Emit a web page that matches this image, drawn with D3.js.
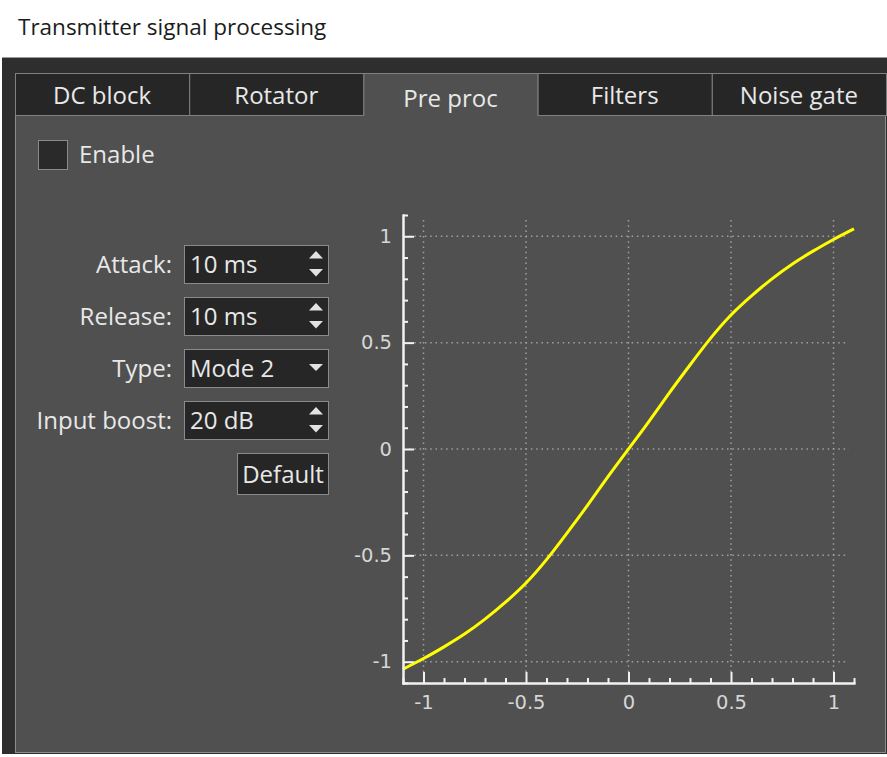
<!DOCTYPE html>
<html>
<head>
<meta charset="utf-8">
<script src="https://cdn.jsdelivr.net/npm/d3@7"></script>
<style>
  body { margin: 0; background: #fff; }
  svg { display: block; }
  .ui { font-family: "Open Sans", sans-serif; font-size: 24px; fill: #e8e8e8; }
  .axis text { font-family: "DejaVu Sans", sans-serif; font-size: 19.5px; fill: #d6d6d6; }
  .axis path, .axis line { stroke: #f2f2f2; stroke-width: 2; }
  .grid line { stroke: #a0a0a0; stroke-width: 1.5; stroke-dasharray: 1.5 3.8; }
</style>
</head>
<body>
<script>
// ---- data ----
const tabs = ["DC block", "Rotator", "Pre proc", "Filters", "Noise gate"];
const activeTab = "Pre proc";
const ctrlLabels = ["Attack:", "Release:", "Type:", "Input boost:"];
const ctrlValues = ["10 ms", "10 ms", "Mode 2", "20 dB"];
const ctrlKinds = ["spin", "spin", "combo", "spin"];

// transfer curve: input level -> output level
const xIn = [-1.1, -1.0, -0.9, -0.8, -0.7, -0.6, -0.5, -0.4, -0.3, -0.2, -0.1, 0,
             0.1, 0.2, 0.3, 0.4, 0.5, 0.6, 0.7, 0.8, 0.9, 1.0, 1.1];
const yOut = [-1.035, -0.985, -0.93, -0.87, -0.80, -0.72, -0.63, -0.52, -0.395, -0.265, -0.13, 0,
              0.13, 0.265, 0.395, 0.52, 0.63, 0.72, 0.80, 0.87, 0.93, 0.985, 1.035];
const majorTicks = [-1, -0.5, 0, 0.5, 1];
const axisDomain = [-1.1, 1.1];

const W = 887, H = 757;

const svg = d3.select("body")
    .append("svg")
    .attr("width", W)
    .attr("height", H);

// window title
svg.append("text")
    .attr("x", 18)
    .attr("y", 35)
    .attr("font-family", "Open Sans, sans-serif")
    .attr("font-size", 22.5)
    .attr("fill", "#1c1c1c")
    .text("Transmitter signal processing");

// dark frame around the tab widget
svg.append("rect")
    .attr("x", 2).attr("y", 57)
    .attr("width", W - 2).attr("height", 697)
    .attr("fill", "#2e2e2e");
svg.append("line")
    .attr("x1", 2).attr("x2", W).attr("y1", 57.5).attr("y2", 57.5)
    .attr("stroke", "#9a9a9a");

// tab page
svg.append("rect")
    .attr("x", 15.5).attr("y", 115.5)
    .attr("width", 870).attr("height", 637)
    .attr("fill", "#505050")
    .attr("stroke", "#8c8c8c");

// tab bar
const tabX = d3.scaleBand().domain(tabs).range([15, 886]);
const tabTop = 73.5, tabBottom = 115.5;

const tabG = svg.selectAll("g.tab")
    .data(tabs)
    .enter()
    .append("g")
    .attr("class", "tab");

tabG.append("rect")
    .attr("x", d => tabX(d) + 0.5)
    .attr("y", tabTop)
    .attr("width", tabX.bandwidth())
    .attr("height", d => d === activeTab ? tabBottom - tabTop + 1.5 : tabBottom - tabTop)
    .attr("fill", d => d === activeTab ? "#505050" : "#262626")
    .attr("stroke", d => d === activeTab ? "none" : "#808080");

// active tab: border on three sides only, open towards the page
tabG.filter(d => d === activeTab)
    .append("path")
    .attr("d", d => {
        const x0 = tabX(d) + 0.5, x1 = tabX(d) + tabX.bandwidth() + 0.5;
        return `M${x0},${tabBottom}V${tabTop}H${x1}V${tabBottom}`;
    })
    .attr("fill", "none")
    .attr("stroke", "#808080");

tabG.append("text")
    .attr("class", "ui")
    .attr("x", d => tabX(d) + tabX.bandwidth() / 2)
    .attr("y", d => d === activeTab ? 106.5 : 103.5)
    .attr("text-anchor", "middle")
    .text(d => d);

// Enable checkbox
svg.append("rect")
    .attr("x", 38.5).attr("y", 140.5)
    .attr("width", 29).attr("height", 29)
    .attr("fill", "#2a2a2a")
    .attr("stroke", "#8a8a8a");
svg.append("text")
    .attr("class", "ui")
    .attr("x", 79).attr("y", 163)
    .text("Enable");

// parameter rows
const rowTop = d3.scalePoint().domain(ctrlLabels).range([245, 401]);
const boxX = 184.5, boxW = 144, boxH = 38;

const rows = svg.selectAll("g.row")
    .data(ctrlLabels)
    .enter()
    .append("g")
    .attr("class", "row")
    .attr("transform", d => "translate(0," + rowTop(d) + ")");

rows.append("text")
    .attr("class", "ui")
    .attr("x", 172)
    .attr("y", 28)
    .attr("text-anchor", "end")
    .text(d => d);

rows.append("rect")
    .attr("x", boxX).attr("y", 0.5)
    .attr("width", boxW).attr("height", boxH)
    .attr("fill", "#262626")
    .attr("stroke", "#8a8a8a");

rows.append("text")
    .attr("class", "ui")
    .attr("x", 190)
    .attr("y", 28)
    .text((d, i) => ctrlValues[i]);

// spin box arrows / combo arrow
rows.each(function (d, i) {
    const g = d3.select(this);
    const cx = 316;
    if (ctrlKinds[i] === "spin") {
        g.append("path")
            .attr("d", `M${cx - 7},13.5L${cx + 7},13.5L${cx},6Z`)
            .attr("fill", "#e2e2e2");
        g.append("path")
            .attr("d", `M${cx - 7},24L${cx + 7},24L${cx},31.5Z`)
            .attr("fill", "#e2e2e2");
    } else {
        g.append("path")
            .attr("d", `M${cx - 7},15L${cx + 7},15L${cx},22Z`)
            .attr("fill", "#e2e2e2");
    }
});

// Default button
svg.append("rect")
    .attr("x", 237.5).attr("y", 453.5)
    .attr("width", 91).attr("height", 41)
    .attr("fill", "#262626")
    .attr("stroke", "#8a8a8a");
svg.append("text")
    .attr("class", "ui")
    .attr("x", 283).attr("y", 483)
    .attr("text-anchor", "middle")
    .text("Default");

// ---- transfer curve plot ----
const xScale = d3.scaleLinear().domain(axisDomain).range([403, 854]);
const yScale = d3.scaleLinear().domain(axisDomain).range([683, 215]);
const minorTicks = d3.range(-11, 12).map(d => d / 10).filter(d => Math.round(d * 10) % 5 !== 0);

// dotted grid at the major ticks
const grid = svg.append("g").attr("class", "grid");
grid.selectAll("line.v")
    .data(majorTicks)
    .enter()
    .append("line")
    .attr("x1", d => xScale(d)).attr("x2", d => xScale(d))
    .attr("y1", 220).attr("y2", 673);
grid.selectAll("line.h")
    .data(majorTicks)
    .enter()
    .append("line")
    .attr("y1", d => yScale(d)).attr("y2", d => yScale(d))
    .attr("x1", 409).attr("x2", 849);

// the curve
svg.append("path")
    .datum(xIn.map((x, i) => [x, yOut[i]]))
    .attr("fill", "none")
    .attr("stroke", "#ffff00")
    .attr("stroke-width", 3)
    .attr("d", d3.line()
        .x(d => xScale(d[0]))
        .y(d => yScale(d[1]))
        .curve(d3.curveNatural));

// y axis: ticks point into the plot, labels on the left
svg.append("g")
    .attr("class", "axis")
    .attr("transform", "translate(403,0)")
    .call(d3.axisLeft(yScale).tickValues(majorTicks).tickSizeInner(-11).tickSizeOuter(0)
        .tickPadding(11).tickFormat(d => String(d)));
svg.append("g")
    .attr("class", "axis")
    .attr("transform", "translate(403,0)")
    .call(d3.axisLeft(yScale).tickValues(minorTicks).tickSizeInner(-5).tickSizeOuter(0)
        .tickFormat(""));

// x axis
svg.append("g")
    .attr("class", "axis")
    .attr("transform", "translate(0,683)")
    .call(d3.axisBottom(xScale).tickValues(majorTicks).tickSizeInner(-11).tickSizeOuter(0)
        .tickPadding(12).tickFormat(d => String(d)));
svg.append("g")
    .attr("class", "axis")
    .attr("transform", "translate(0,683)")
    .call(d3.axisBottom(xScale).tickValues(minorTicks).tickSizeInner(-5).tickSizeOuter(0)
        .tickFormat(""));

svg.selectAll(".axis .domain").attr("stroke-linecap", "square");
</script>
</body>
</html>
